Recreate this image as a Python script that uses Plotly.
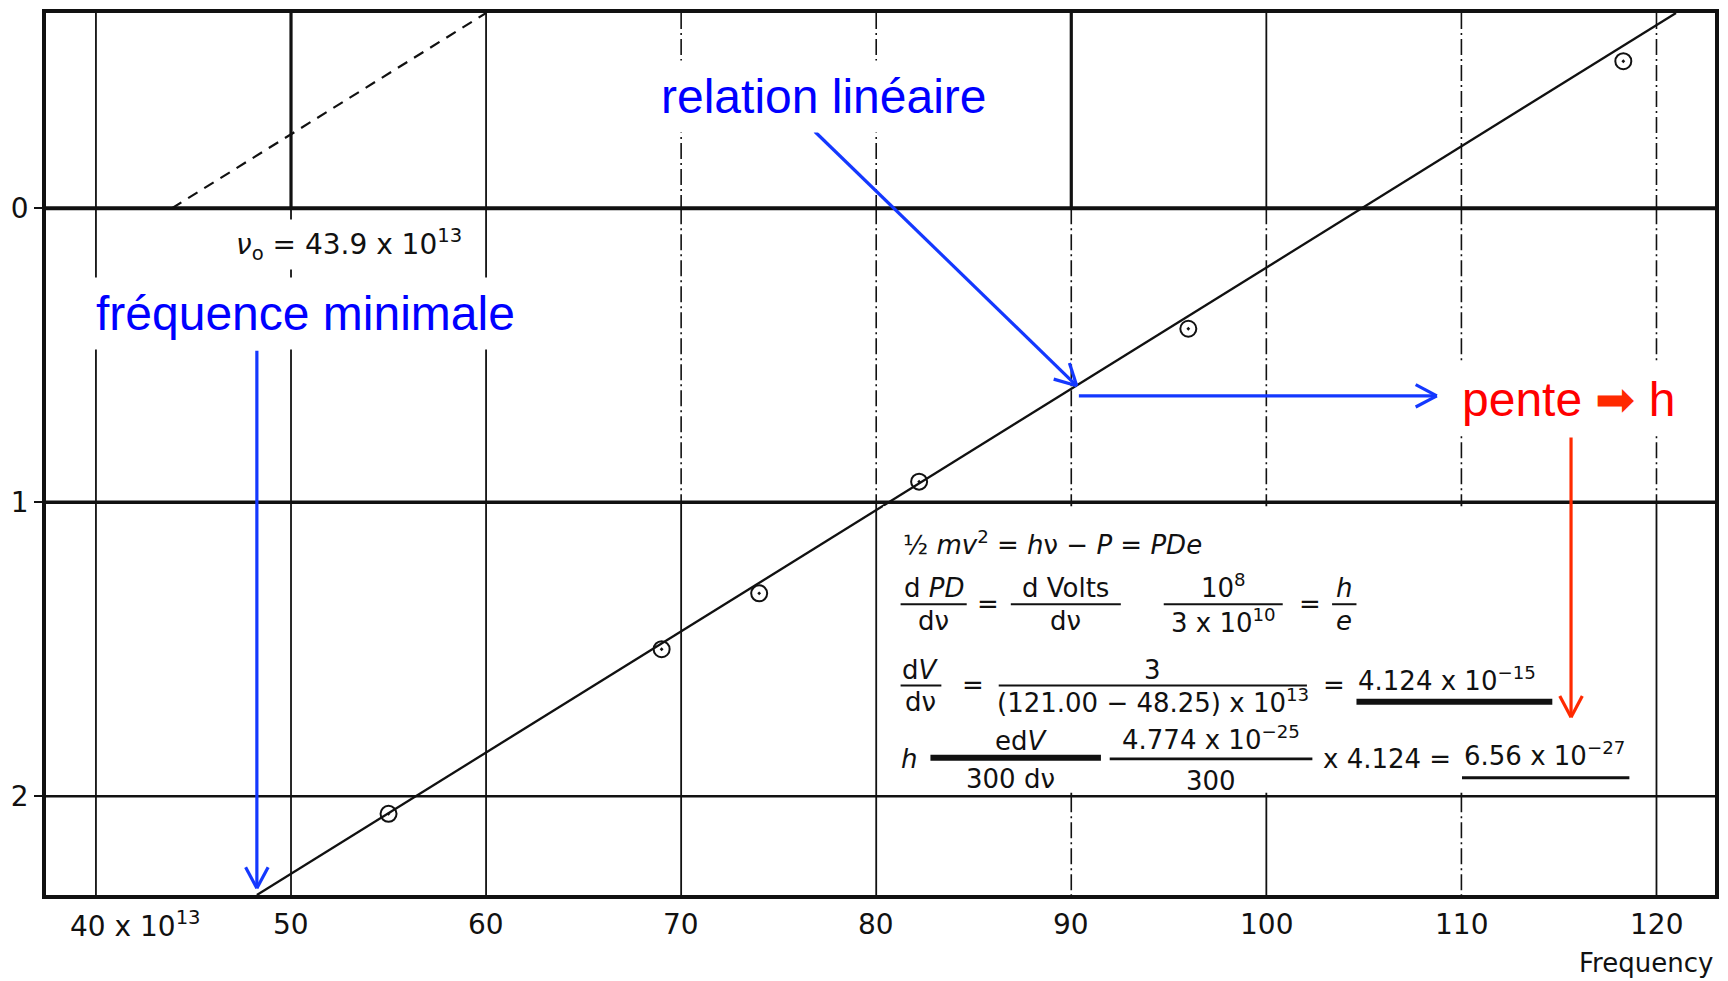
import math
import plotly.graph_objects as go

# Stopping potential (volts) against frequency (x 10^13 Hz), sodium photo-surface
freq = [55.0, 69.0, 74.0, 82.2, 96.0, 118.3]
volts = [2.06, 1.50, 1.31, 0.93, 0.41, -0.50]

# Fitted straight line and its parallel extrapolation to the threshold
fit_freq = [48.25, 121.00]
fit_volts = [2.336, -0.664]
extrap_freq = [43.9, 60.0]
extrap_volts = [0.0, -0.664]

x_ticks = [40, 50, 60, 70, 80, 90, 100, 110, 120]
x_tick_text = ["40 x 10<sup>13</sup>", "50", "60", "70", "80", "90", "100", "110", "120"]
y_ticks = [0, 1, 2]
y_tick_text = ["0", "1", "2"]

X_RANGE = [37.44, 123.0]
Y_RANGE = [2.336, -0.664]
W, H = 1728, 981
M = dict(l=46, r=12, t=9, b=86)
PLOT_W = W - M["l"] - M["r"]
PLOT_H = H - M["t"] - M["b"]
PX_X = PLOT_W / (X_RANGE[1] - X_RANGE[0])
PX_Y = PLOT_H / (Y_RANGE[0] - Y_RANGE[1])

INK = "#111111"
BLUE_TXT = "#0000ff"
BLUE_ARW = "#1438ff"
RED_TXT = "#ff0000"
RED_ARW = "#ff2a00"
HAND = "DejaVu Sans"
LABEL = "Liberation Sans, Arial, sans-serif"

fig = go.Figure()

# ---- grid: vertical rules drawn band by band between the volt lines
bands = [(Y_RANGE[1], 0), (0, 1), (1, 2), (2, Y_RANGE[0])]
# per tick, per band: 'S' heavy solid, 's' solid, 'd' dash-dot
grid_style = {
    40: "ssss", 50: "Ssss", 60: "ssss", 70: "ddss", 80: "ddss",
    90: "Sdsd", 100: "sdss", 110: "ddsd", 120: "ddss",
}
style_props = {
    "S": dict(width=3.2, dash="solid"),
    "s": dict(width=1.8, dash="solid"),
    "d": dict(width=1.6, dash="16px,4px,2px,4px"),
}
groups = {k: ([], []) for k in style_props}
for t in x_ticks:
    for (ya, yb), code in zip(bands, grid_style[t]):
        gx, gy = groups[code]
        gx += [t, t, None]
        gy += [ya, yb, None]
for code, (gx, gy) in groups.items():
    fig.add_trace(go.Scatter(x=gx, y=gy, mode="lines", hoverinfo="skip",
                             line=dict(color=INK, **style_props[code]), showlegend=False))

# horizontal volt rules
h_width = {0: 4.0, 1: 3.5, 2: 2.6}
for v in y_ticks:
    fig.add_trace(go.Scatter(x=X_RANGE, y=[v, v], mode="lines", hoverinfo="skip",
                             line=dict(color=INK, width=h_width[v]), showlegend=False))

# ---- data
fig.add_trace(go.Scatter(x=extrap_freq, y=extrap_volts, mode="lines",
                         line=dict(color=INK, width=2.2, dash="11px,8px"), showlegend=False))
fig.add_trace(go.Scatter(x=fit_freq, y=fit_volts, mode="lines",
                         line=dict(color=INK, width=2.3), showlegend=False))
fig.add_trace(go.Scatter(x=freq, y=volts, mode="markers",
                         marker=dict(symbol="circle-open-dot", size=16, color=INK,
                                     line=dict(width=2.0, color=INK)),
                         showlegend=False))

shapes = []
annotations = []

# blank panel that carries the worked calculation
shapes.append(dict(type="rect", xref="x", yref="y", x0=80.35, x1=119.7, y0=1.014, y1=1.988,
                   fillcolor="white", line=dict(width=0), layer="above"))


def seg(x0, y0, x1, y1, color, width):
    shapes.append(dict(type="line", xref="x", yref="y", x0=x0, x1=x1, y0=y0, y1=y1,
                       line=dict(color=color, width=width), layer="above"))


# ---- open-headed arrows
def arrow(x0, y0, x1, y1, color, width=3.2, head=24, half_angle=28):
    dx, dy = (x1 - x0) * PX_X, (y1 - y0) * PX_Y
    L = math.hypot(dx, dy)
    bx, by = -dx / L, -dy / L
    a = math.radians(half_angle)
    seg(x0, y0, x1, y1, color, width)
    for s in (1, -1):
        rx = bx * math.cos(a) - by * math.sin(a) * s
        ry = bx * math.sin(a) * s + by * math.cos(a)
        seg(x1, y1, x1 + head * rx / PX_X, y1 + head * ry / PX_Y, color, width)


arrow(48.25, 0.485, 48.25, 2.313, BLUE_ARW)
arrow(76.85, -0.261, 90.28, 0.604, BLUE_ARW)
arrow(90.39, 0.638, 108.74, 0.638, BLUE_ARW)
arrow(115.62, 0.780, 115.62, 1.731, RED_ARW)


def bar(x0, x1, y, width=2.0):
    seg(x0, y, x1, y, INK, width)


def txt(s, x, y, anchor="center", size=26, color=INK, family=HAND, bg=None, pad=4):
    a = dict(text=s, x=x, y=y, xref="x", yref="y", xanchor=anchor, yanchor="middle",
             showarrow=False, font=dict(family=family, size=size, color=color))
    if bg:
        a.update(bgcolor=bg, borderpad=pad)
    annotations.append(a)


def frac(num, den, x0, x1, yb, yn, yd, width=2.0):
    bar(x0, x1, yb, width)
    xc = (x0 + x1) / 2
    txt(num, xc, yn)
    txt(den, xc, yd)


# line 1
txt("½ <i>mv</i><sup>2</sup> = <i>h</i>ν − <i>P</i> = <i>PDe</i>", 81.25, 1.138, anchor="left")
# line 2
frac("d <i>PD</i>", "dν", 81.25, 84.64, 1.347, 1.291, 1.403)
txt("=", 85.71, 1.347)
frac("d Volts", "dν", 86.90, 92.54, 1.347, 1.291, 1.403)
frac("10<sup>8</sup>", "3 x 10<sup>10</sup>", 94.74, 100.84, 1.347, 1.285, 1.405)
txt("=", 102.25, 1.347)
frac("<i>h</i>", "<i>e</i>", 103.37, 104.62, 1.347, 1.291, 1.403)
# line 3
frac("d<i>V</i>", "dν", 81.25, 83.34, 1.623, 1.571, 1.679)
txt("=", 84.98, 1.623)
frac("3", "(121.00 − 48.25) x 10<sup>13</sup>", 86.28, 102.08, 1.623, 1.571, 1.677)
txt("=", 103.49, 1.623)
txt("4.124 x 10<sup>−15</sup>", 104.62, 1.600, anchor="left")
bar(104.62, 114.66, 1.679, 6)
# line 4
txt("<i>h</i>", 81.70, 1.873)
bar(82.78, 91.52, 1.869, 6)
txt("ed<i>V</i>", 87.46, 1.813)
txt("300 dν", 86.90, 1.940)
frac("4.774 x 10<sup>−25</sup>", "300", 91.97, 102.36, 1.873, 1.803, 1.948, 2.6)
txt("x 4.124 =", 102.81, 1.873, anchor="left")
txt("6.56 x 10<sup>−27</sup>", 110.03, 1.858, anchor="left")
bar(110.03, 118.61, 1.937, 3)

# threshold note
txt("<i>ν</i><sub>o</sub> = 43.9 x 10<sup>13</sup>", 52.95, 0.125, size=28, bg="white")

# coloured commentary
txt("fréquence minimale", 50.72, 0.358, size=48, color=BLUE_TXT, family=LABEL, bg="white", pad=9)
txt("relation linéaire", 77.30, -0.381, size=48, color=BLUE_TXT, family=LABEL, bg="white", pad=9)
txt("pente <span style='color:%s'>➡</span> h" % RED_ARW, 115.51, 0.649, size=48,
    color=RED_TXT, family=LABEL, bg="white", pad=9)

# frequency tick labels along the bottom
for t, lab in zip(x_ticks, x_tick_text):
    a = dict(text=lab, x=t, y=-0.033, xref="x", yref="paper", yanchor="middle",
             showarrow=False, font=dict(family=HAND, size=28, color=INK))
    if t == x_ticks[0]:
        a.update(xanchor="left", xshift=-28)
    else:
        a.update(xanchor="center")
    annotations.append(a)
annotations.append(dict(text="Frequency", x=1.0, y=-0.077, xref="paper", yref="paper",
                        xanchor="right", yanchor="middle", showarrow=False,
                        font=dict(family=HAND, size=26, color=INK)))

fig.update_layout(
    width=W, height=H, margin=M,
    paper_bgcolor="white", plot_bgcolor="white",
    shapes=shapes, annotations=annotations,
    xaxis=dict(range=X_RANGE, showgrid=False, zeroline=False, showticklabels=False,
               ticks="", showline=True, mirror=True, linecolor=INK, linewidth=3.5),
    yaxis=dict(range=Y_RANGE, showgrid=False, zeroline=False, tickvals=y_ticks,
               ticktext=y_tick_text, ticks="outside", ticklen=8, tickwidth=1.5,
               tickcolor=INK, tickfont=dict(family=HAND, size=28, color=INK),
               showline=True, mirror=True, linecolor=INK, linewidth=3.5),
)

fig.write_html("out.html")
